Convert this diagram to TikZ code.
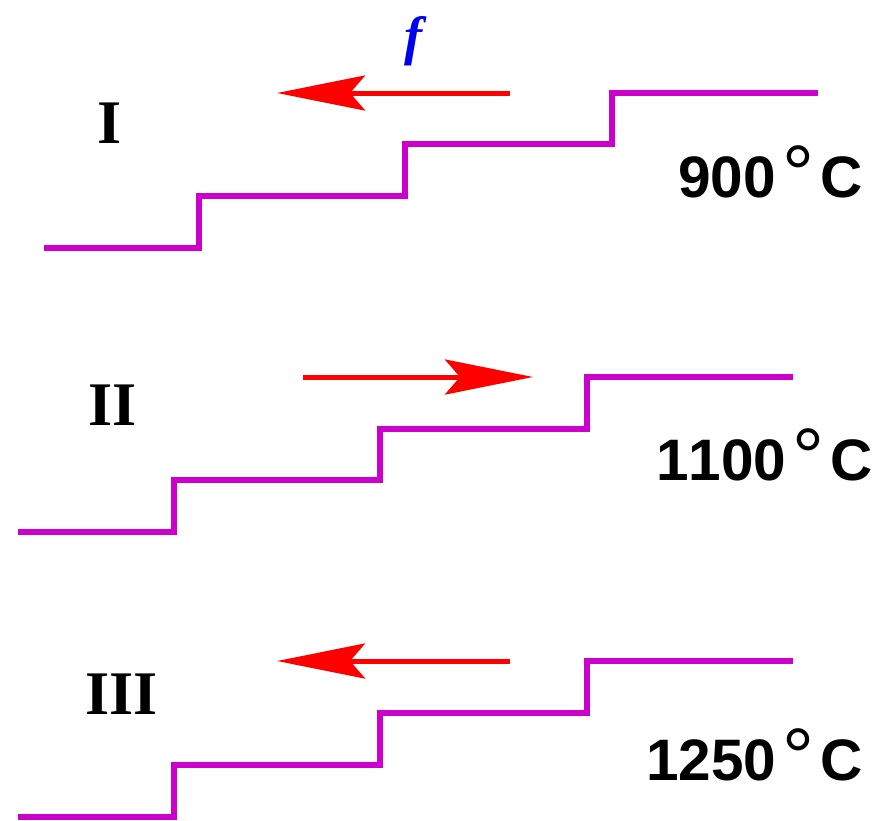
\documentclass[tikz,border=0pt]{standalone}
\usepackage{fontspec}
\setmainfont{Liberation Serif}
\newfontfamily\arialfont[Kerning=Off]{Liberation Sans}
\usetikzlibrary{arrows.meta}
\definecolor{stairmag}{HTML}{CC00CC}
\definecolor{arrred}{HTML}{FF0000}
\definecolor{fblue}{HTML}{0000EE}
\newcommand{\tempdeg}[1]{#1\kern0.11em\raisebox{-4pt}{\fontsize{80}{80}\selectfont\mdseries°}\kern0.1em C}
\tikzset{
  stair/.style={draw=stairmag, line width=6pt, line join=miter, line cap=butt},
  forcearrow/.style={draw=arrred, line width=5pt,
     -{Stealth[length=88pt, width=35pt, inset=15pt, fill=arrred]}},
  romanlabel/.style={font=\fontsize{62}{64}\selectfont\bfseries, anchor=base, inner sep=0pt},
  templabel/.style={font=\fontsize{58.5}{60}\selectfont\arialfont\bfseries, anchor=base west, inner sep=0pt},
  flabel/.style={font=\fontsize{54}{56}\selectfont\bfseries\itshape, text=fblue, anchor=base, inner sep=0pt}
}
\begin{document}
\begin{tikzpicture}[x=1pt, y=-1pt]
\useasboundingbox (0,0) rectangle (878,820);
% Staircase I
\draw[stair] (44,248) -- (199,248) -- (199,196) -- (405,196) -- (405,144) -- (612,144) -- (612,93) -- (818,93);
% Staircase II
\draw[stair] (18,532) -- (174,532) -- (174,480) -- (380,480) -- (380,429) -- (587,429) -- (587,377) -- (793,377);
% Staircase III
\draw[stair] (18,817) -- (174,817) -- (174,765) -- (380,765) -- (380,713) -- (587,713) -- (587,661) -- (793,661);
% arrows
\coordinate (a1s) at (510,93);  \coordinate (a1e) at (277,93);
\coordinate (a2s) at (303,377); \coordinate (a2e) at (533,377);
\coordinate (a3s) at (510,661); \coordinate (a3e) at (277,661);
\draw[forcearrow] (a1s) -- (a1e);
\draw[forcearrow] (a2s) -- (a2e);
\draw[forcearrow] (a3s) -- (a3e);
% labels
\node[flabel] (f) at (413,54) {f};
\node[romanlabel] (r1) at (110,143) {I};
\node[romanlabel] (r2) at (113,425) {II};
\node[romanlabel] (r3) at (121.5,714) {III};
\node[templabel] (t1) at (678,197) {\tempdeg{900}};
\node[templabel] (t2) at (656,480) {\tempdeg{1100}};
\node[templabel] (t3) at (646,780) {\tempdeg{1250}};
\end{tikzpicture}
\end{document}
